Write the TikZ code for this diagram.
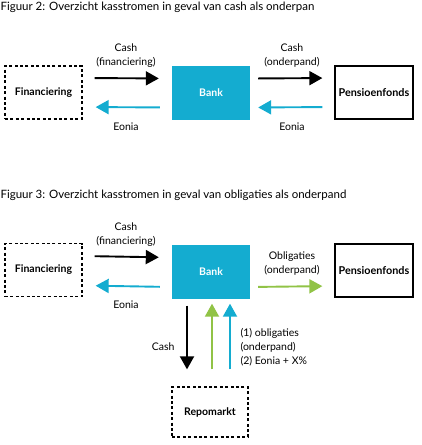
\documentclass[tikz,border=0pt]{standalone}
\usepackage{fontspec}
\setmainfont{Lato}
\usetikzlibrary{arrows.meta}
\usetikzlibrary{positioning}
\definecolor{bankblue}{RGB}{20,172,208}
\definecolor{bondgreen}{RGB}{145,195,70}
\tikzset{extbox/.style = {draw, line width=1.3pt, dash pattern=on 3pt off 2.4pt,
                          minimum width=77pt, minimum height=53pt,
                          font=\fontsize{10.5}{12}\selectfont\bfseries},
         partybox/.style = {draw, line width=1.3pt,
                            minimum width=78pt, minimum height=53pt, inner sep=1pt,
                            font=\fontsize{10.8}{12}\selectfont\bfseries},
         bankbox/.style = {fill=bankblue, text=white, minimum width=78pt, minimum height=54pt,
                           font=\fontsize{10.5}{12}\selectfont\bfseries},
         flow/.style = {line width=1.9pt, -{Triangle[length=13pt,width=14pt]},
                        shorten <=12pt, shorten >=13pt},
         lbl/.style = {align=center, font=\fontsize{10.5}{14}\selectfont},
         caption/.style = {anchor=west, font=\fontsize{11.5}{14}\selectfont}}

\begin{document}
\begin{tikzpicture}[x=1pt, y=-1pt]
    \useasboundingbox (0,0) rectangle (421,445);

    % figuur 2
    \node [caption] (title2) at (-3, 7) {Figuur 2: Overzicht kasstromen in geval van cash als onderpan};
    \node [extbox] (fin2) at (43.5, 92.5) {Financiering};
    \node [bankbox] (bank2) at (211, 93) {Bank};
    \node [partybox] (pens2) at (374, 92.5) {Pensioenfonds};

    \draw [flow] ([yshift=14.5pt]fin2.east) -- ([yshift=14.5pt]bank2.west);
    \draw [flow, bankblue] ([yshift=-14.5pt]bank2.west) -- ([yshift=-14.5pt]fin2.east);
    \draw [flow, shorten <=8pt, shorten >=12pt] ([yshift=14.5pt]bank2.east) -- ([yshift=14.5pt]pens2.west);
    \draw [flow, bankblue, shorten <=12pt, shorten >=8pt] ([yshift=-14.5pt]pens2.west) -- ([yshift=-14.5pt]bank2.east);

    \node [lbl] (cash2a) at (126, 56) {Cash\\(financiering)};
    \node [lbl] (cash2b) at (292, 56) {Cash\\(onderpand)};
    \node [lbl] (eonia2a) at (126, 127) {Eonia};
    \node [lbl] (eonia2b) at (292, 127) {Eonia};

    % figuur 3
    \node [caption] (title3) at (-3, 195) {Figuur 3: Overzicht kasstromen in geval van obligaties als onderpand};
    \node [extbox] (fin3) at (43.5, 270) {Financiering};
    \node [bankbox] (bank3) at (211, 271.5) {Bank};
    \node [partybox] (pens3) at (374, 270.5) {Pensioenfonds};
    \node [extbox, minimum width=76pt, minimum height=50pt] (repo) at (210, 412) {Repomarkt};

    \draw [flow] ([yshift=14pt]fin3.east) -- ([yshift=14pt]bank3.west);
    \draw [flow, bankblue] ([yshift=-15.5pt]bank3.west) -- ([yshift=-15.5pt]fin3.east);
    \draw [flow, bondgreen, shorten <=8pt, shorten >=12pt] ([yshift=-15.5pt]bank3.east) -- ([yshift=-15.5pt]pens3.west);

    \draw [flow, shorten <=7pt, shorten >=17pt] ([xshift=-24pt]bank3.south) -- ([xshift=-23pt]repo.north);
    \draw [flow, bondgreen, shorten <=17pt, shorten >=5pt] ([xshift=2pt]repo.north) -- ([xshift=1pt]bank3.south);
    \draw [flow, bankblue, shorten <=17pt, shorten >=5pt] ([xshift=20pt]repo.north) -- ([xshift=19pt]bank3.south);

    \node [lbl] (cash3a) at (126, 235) {Cash\\(financiering)};
    \node [lbl] (bond3) at (292, 264) {Obligaties\\(onderpand)};
    \node [lbl] (eonia3) at (126, 305) {Eonia};
    \node [lbl, anchor=east] (cash3b) at (178, 347) {Cash};
    \node [lbl, anchor=west, align=left] (repolbl) at (237, 347)
        {(1) obligaties\\(onderpand)\\(2) Eonia + X\%};
\end{tikzpicture}
\end{document}
